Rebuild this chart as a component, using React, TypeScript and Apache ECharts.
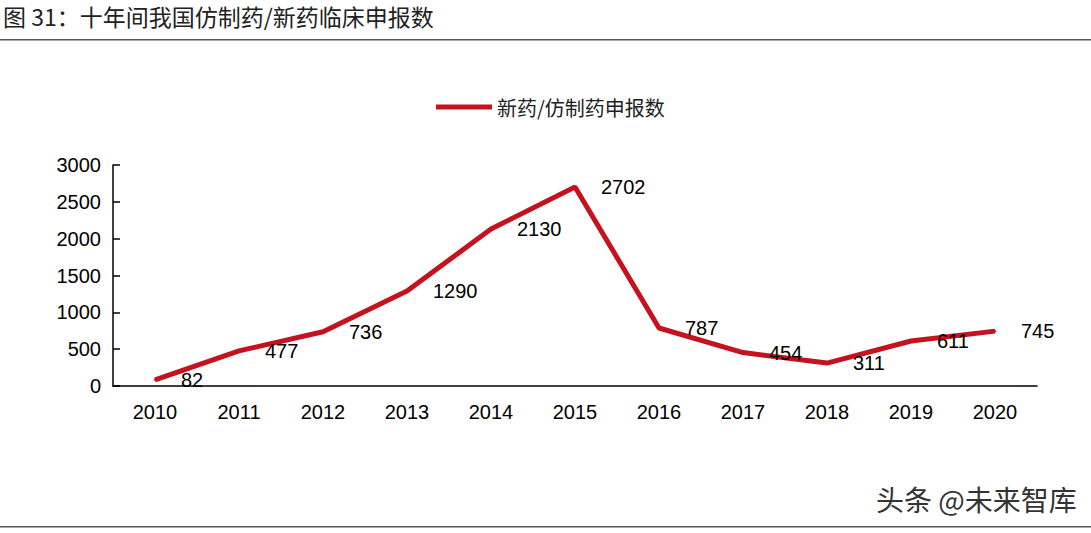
import * as echarts from "echarts";
import { useEffect, useRef } from "react";

const years = ["2010", "2011", "2012", "2013", "2014", "2015", "2016", "2017", "2018", "2019", "2020"];
const filings = [82, 477, 736, 1290, 2130, 2702, 787, 454, 311, 611, 745];
const seriesName = "新药/仿制药申报数";
const title = "图 31：十年间我国仿制药/新药临床申报数";
const watermark = "头条 @未来智库";

const RED = "#C5121F";
const CJK = '"Noto Sans CJK SC", sans-serif';
const LATIN = '"Liberation Sans", Arial, sans-serif';

export default function App() {
  const ref = useRef<HTMLDivElement | null>(null);

  useEffect(() => {
    document.body.style.margin = "0";
    if (!ref.current) {
      return;
    }
    const chart = echarts.init(ref.current, null, { renderer: "svg" });
    chart.setOption({
      animation: false,
      backgroundColor: "#fff",
      legend: {
        left: 431,
        top: 92,
        itemWidth: 56,
        itemHeight: 5,
        itemGap: 8,
        data: [{ name: seriesName, icon: "rect" }],
        itemStyle: { color: RED },
        textStyle: { fontFamily: CJK, fontSize: 20, color: "#222" }
      },
      grid: { left: 113, right: 54, top: 165, bottom: 147 },
      xAxis: {
        type: "category",
        data: years,
        boundaryGap: true,
        axisLine: { lineStyle: { color: "#000", width: 1.5 } },
        axisTick: { inside: true, length: 8, lineStyle: { color: "#000", width: 1.5 } },
        axisLabel: { fontFamily: LATIN, fontSize: 20, color: "#000", margin: 16 }
      },
      yAxis: {
        type: "value",
        min: 0,
        max: 3000,
        interval: 500,
        splitLine: { show: false },
        axisLine: { show: true, lineStyle: { color: "#000", width: 1.5 } },
        axisTick: { show: true, inside: true, length: 7, lineStyle: { color: "#000", width: 1.5 } },
        axisLabel: {
          fontFamily: LATIN,
          fontSize: 20,
          color: "#000",
          margin: 12,
          formatter: (v: number) => String(v)
        }
      },
      series: [
        {
          name: seriesName,
          type: "line",
          data: filings,
          symbol: "circle",
          symbolSize: 2,
          itemStyle: { color: RED },
          lineStyle: { color: RED, width: 5 },
          label: {
            show: true,
            position: "right",
            distance: 25,
            fontFamily: LATIN,
            fontSize: 20,
            color: "#000"
          }
        }
      ],
      graphic: [
        {
          type: "text",
          left: 3,
          top: 4,
          style: { text: title, fontFamily: CJK, fontSize: 23, fill: "#222" }
        },
        {
          type: "rect",
          shape: { x: 0, y: 39, width: 1091, height: 1.5 },
          style: { fill: "#555" }
        },
        {
          type: "rect",
          shape: { x: 0, y: 526, width: 1091, height: 1.5 },
          style: { fill: "#555" }
        },
        {
          type: "text",
          left: 876,
          top: 485,
          style: {
            text: watermark,
            fontFamily: CJK,
            fontSize: 28,
            fill: "#333",
            shadowColor: "rgba(0,0,0,0.35)",
            shadowBlur: 2,
            shadowOffsetX: 1,
            shadowOffsetY: 1
          }
        }
      ]
    });
    return () => {
      chart.dispose();
    };
  }, []);

  return <div ref={ref} style={{ width: 1091, height: 533 }} />;
}
